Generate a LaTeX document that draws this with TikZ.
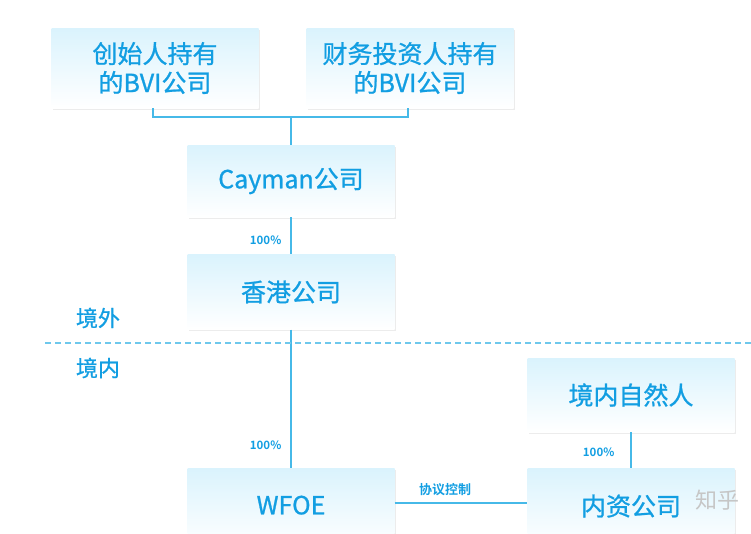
\documentclass[tikz,border=0pt]{standalone}
\usepackage{fontspec}
\newfontfamily\cjk{Noto Sans CJK SC}
\newfontfamily\cjkm{Noto Sans CJK SC}[FakeBold=0.9]
\newfontfamily\cjkb{Noto Sans CJK SC Bold}
\usetikzlibrary{shadows}
\definecolor{txtblue}{RGB}{18,158,226}
\definecolor{lineblue}{RGB}{70,185,232}
\definecolor{dashblue}{RGB}{110,200,236}
\definecolor{boxtop}{RGB}{218,243,253}
\tikzset{
  entity/.style={draw=none, top color=boxtop, bottom color=white,
    drop shadow={shadow xshift=1pt, shadow yshift=-1.5pt, opacity=0.15},
    minimum width=207pt, align=center, text=txtblue,
    font=\cjkm\fontsize{25}{28}\selectfont, inner sep=0pt},
  link/.style={draw=lineblue, line width=1.3pt},
  pct/.style={text=txtblue, font=\cjkb\fontsize{11.5}{13}\selectfont, inner sep=0pt},
  zone/.style={text=txtblue, font=\cjkm\fontsize{22}{24}\selectfont, inner sep=0pt}
}
\begin{document}
\begin{tikzpicture}[x=1pt,y=-1pt]
\useasboundingbox (0,0) rectangle (751,533);
\node[entity, minimum height=80pt] (bvi1) at (155,68) {\raisebox{5pt}{\parbox{200pt}{\centering 创始人持有\\[1pt]的BVI公司}}};
\node[entity, minimum height=80pt] (bvi2) at (410,68) {\raisebox{5pt}{\parbox{200pt}{\centering 财务投资人持有\\[1pt]的BVI公司}}};
\node[entity, minimum height=72pt] (cay) at (291,181) {Cayman公司};
\node[entity, minimum height=75pt] (hk) at (291,292) {香港公司};
\node[entity, minimum height=74pt] (nat) at (631,395) {境内自然人};
\node[entity, minimum height=80pt] (wfoe) at (291,508) {\raisebox{6pt}{WFOE}};
\node[entity, minimum height=80pt] (nz) at (631,508) {\raisebox{6pt}{内资公司}};
\node[text=gray!45, font=\cjk\fontsize{22}{24}\selectfont, inner sep=0pt] (zh) at (717,500) {知乎};
\coordinate (j) at (291,117);
\draw[link] (bvi1.south -| 153,0) |- (j) -| (bvi2.south -| 408,0);
\draw[link] (j) -- (cay.north);
\draw[link] (cay.south) -- node[pct, left=9pt, pos=0.62] (p1) {100\%} (hk.north);
\draw[link] (hk.south) -- node[pct, left=9pt, pos=0.84] (p2) {100\%} (wfoe.north);
\draw[link] (nat.south) -- node[pct, left=16pt, pos=0.55] (p3) {100\%} (nz.north);
\draw[link] (wfoe.east |- 0,503) -- node[pct, above=7pt, pos=0.38, font=\cjkb\fontsize{13}{15}\selectfont] (xy) {协议控制} (nz.west |- 0,503);
\node[zone] (out) at (98,318) {境外};
\node[zone] (in) at (98,368) {境内};
\coordinate (d1) at (45,343);
\coordinate (d2) at (751,343);
\draw[dashblue, line width=1.5pt, dash pattern=on 6pt off 4pt] (d1) -- (d2);
\end{tikzpicture}
\end{document}
